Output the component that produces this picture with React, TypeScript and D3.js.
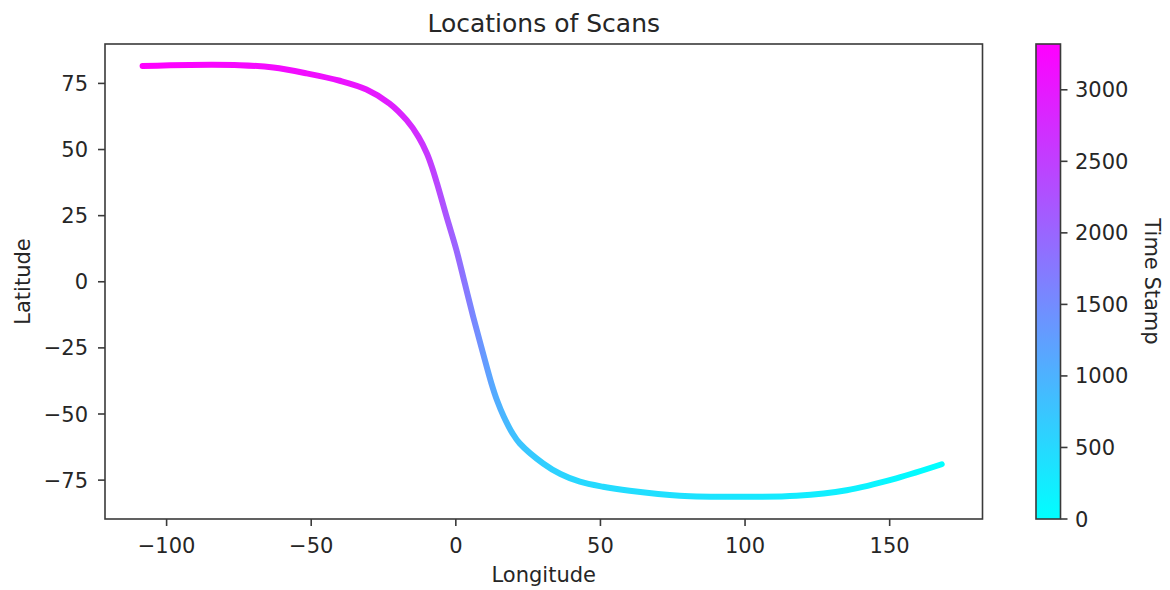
import React from "react";
import * as d3 from "d3";

// Scan track, in time order
const longitudes = [
  168.0, 152.3, 135.1, 117.8, 100.5, 77.4, 60.1, 50.9, 42.9, 36.2, 30.2, 22.1,
  19.6, 16.6, 14.2, 12.3, 9.1, 6.0, 3.1, 0.2, -3.2, -6.5, -8.3, -10.0, -12.9,
  -17.0, -22.9, -30.9, -40.1, -51.6, -63.1, -74.7, -92.0, -108.3,
];
const latitudes = [
  -69.0, -74.3, -78.8, -80.9, -81.3, -80.9, -79.0, -77.5, -75.6, -72.7, -68.7,
  -61.1, -57.3, -51.0, -44.7, -38.4, -25.8, -13.2, -0.6, 12.0, 24.6, 37.2, 43.5,
  48.5, 54.8, 61.1, 67.4, 72.7, 76.0, 78.8, 81.0, 81.9, 82.0, 81.6,
];
const timeStamps = [
  0, 97, 192, 250, 311, 386, 440, 474, 513, 569, 642, 774, 838, 945, 1050, 1155,
  1365, 1573, 1782, 1990, 2199, 2409, 2513, 2597, 2703, 2810, 2919, 3015, 3079,
  3135, 3178, 3207, 3266, 3320,
];

const xTicks = [-100, -50, 0, 50, 100, 150];
const yTicks = [-75, -50, -25, 0, 25, 50, 75];
const cTicks = [0, 500, 1000, 1500, 2000, 2500, 3000];

const W = 1170;
const H = 590;
const plot = { left: 105, right: 982.5, top: 44, bottom: 519 };
const cbar = { left: 1036, right: 1060.5, top: 44, bottom: 519 };
const FONT = "'DejaVu Sans', sans-serif";
const TXT = "#262626";
const AX = "#3a3a3a";

export default function App() {
  const x = d3.scaleLinear().domain([-121.3, 182.1]).range([plot.left, plot.right]);
  const y = d3.scaleLinear().domain([-89.7, 89.9]).range([plot.bottom, plot.top]);
  const tMin = d3.min(timeStamps) as number;
  const tMax = d3.max(timeStamps) as number;
  const cScale = d3.scaleLinear().domain([tMin, tMax]).range([cbar.bottom, cbar.top]);
  const cool = d3.interpolateRgb("#00ffff", "#ff00ff");
  const colorOf = (t: number) => cool((t - tMin) / (tMax - tMin));

  const pts = longitudes.map((lon, i) => ({ lon, lat: latitudes[i], t: timeStamps[i] }));
  const line = d3
    .line<{ lon: number; lat: number }>()
    .x((d) => x(d.lon))
    .y((d) => y(d.lat))
    .curve(d3.curveCatmullRom.alpha(0.5));

  const gx1 = x(d3.min(longitudes) as number);
  const gx2 = x(d3.max(longitudes) as number);
  const stops = [...pts]
    .sort((a, b) => a.lon - b.lon)
    .map((p) => ({ off: (x(p.lon) - gx1) / (gx2 - gx1), col: colorOf(p.t) }));

  const tickLen = 7;

  return (
    <svg
      width={W}
      height={H}
      style={{ position: "absolute", left: 0, top: 0, background: "#fff" }}
      fontFamily={FONT}
    >
      <defs>
        <linearGradient id="trackGrad" gradientUnits="userSpaceOnUse" x1={gx1} y1={0} x2={gx2} y2={0}>
          {stops.map((s, i) => (
            <stop key={i} offset={s.off} stopColor={s.col} />
          ))}
        </linearGradient>
        <linearGradient id="cbarGrad" x1="0" y1="1" x2="0" y2="0">
          <stop offset="0" stopColor={cool(0)} />
          <stop offset="1" stopColor={cool(1)} />
        </linearGradient>
        <clipPath id="plotClip">
          <rect x={plot.left} y={plot.top} width={plot.right - plot.left} height={plot.bottom - plot.top} />
        </clipPath>
      </defs>

      {/* title */}
      <text x={(plot.left + plot.right) / 2} y={32} textAnchor="middle" fontSize={25} fill={TXT}>
        Locations of Scans
      </text>

      {/* track */}
      <g clipPath="url(#plotClip)">
        <path
          d={line(pts) || ""}
          fill="none"
          stroke="url(#trackGrad)"
          strokeWidth={6}
          strokeLinecap="round"
          strokeLinejoin="round"
        />
      </g>

      {/* frame */}
      <rect
        x={plot.left}
        y={plot.top}
        width={plot.right - plot.left}
        height={plot.bottom - plot.top}
        fill="none"
        stroke={AX}
        strokeWidth={1.6}
      />

      {/* x ticks */}
      {xTicks.map((v) => (
        <g key={"x" + v}>
          <line x1={x(v)} x2={x(v)} y1={plot.bottom} y2={plot.bottom + tickLen} stroke={AX} strokeWidth={1.6} />
          <text x={x(v)} y={553} textAnchor="middle" fontSize={21} fill={TXT}>
            {v < 0 ? "\u2212" + Math.abs(v) : String(v)}
          </text>
        </g>
      ))}
      <text x={(plot.left + plot.right) / 2} y={582} textAnchor="middle" fontSize={21} fill={TXT}>
        Longitude
      </text>

      {/* y ticks */}
      {yTicks.map((v) => (
        <g key={"y" + v}>
          <line x1={plot.left - tickLen} x2={plot.left} y1={y(v)} y2={y(v)} stroke={AX} strokeWidth={1.6} />
          <text x={88} y={y(v)} dy="0.36em" textAnchor="end" fontSize={21} fill={TXT}>
            {v < 0 ? "\u2212" + Math.abs(v) : String(v)}
          </text>
        </g>
      ))}
      <text
        transform={`translate(30, ${(plot.top + plot.bottom) / 2}) rotate(-90)`}
        textAnchor="middle"
        fontSize={21}
        fill={TXT}
      >
        Latitude
      </text>

      {/* colorbar */}
      <rect
        x={cbar.left}
        y={cbar.top}
        width={cbar.right - cbar.left}
        height={cbar.bottom - cbar.top}
        fill="url(#cbarGrad)"
        stroke={AX}
        strokeWidth={1.6}
      />
      {cTicks.map((v) => (
        <g key={"c" + v}>
          <line x1={cbar.right} x2={cbar.right + tickLen} y1={cScale(v)} y2={cScale(v)} stroke={AX} strokeWidth={1.6} />
          <text x={1075} y={cScale(v)} dy="0.36em" textAnchor="start" fontSize={21} fill={TXT}>
            {String(v)}
          </text>
        </g>
      ))}
      <text
        transform={`translate(1145, ${(cbar.top + cbar.bottom) / 2}) rotate(90)`}
        textAnchor="middle"
        fontSize={21}
        fill={TXT}
      >
        Time Stamp
      </text>
    </svg>
  );
}
